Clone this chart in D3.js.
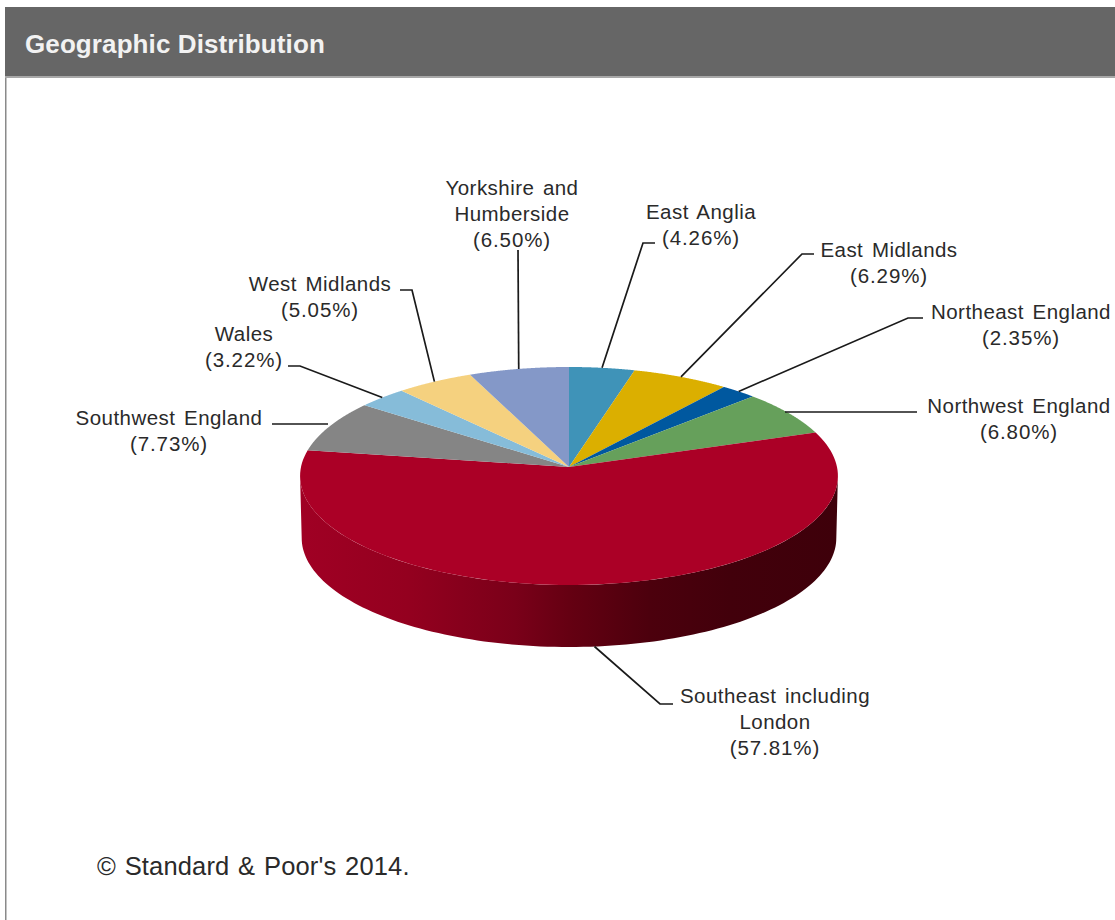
<!DOCTYPE html>
<html>
<head>
<meta charset="utf-8">
<script src="https://cdn.jsdelivr.net/npm/d3@7/dist/d3.min.js"></script>
<style>
html,body{margin:0;padding:0;background:#fff;overflow:hidden}
svg{display:block}
text{font-family:"Liberation Sans",Arial,sans-serif}
</style>
</head>
<body>
<svg id="chart" width="1115" height="920"></svg>
<script>
// Regional shares of the portfolio, clockwise from twelve o'clock
const regions = ["East Anglia","East Midlands","Northeast England","Northwest England","Southeast including London","Southwest England","Wales","West Midlands","Yorkshire and Humberside"];
const shares = [4.26,6.29,2.35,6.80,57.81,7.73,3.22,5.05,6.50];
const sliceColors = ["#3f93b8","#dbaf00","#00589f","#66a05b","#ab0026","#858585","#86bcd9","#f5d17f","#8498c8"];
const labelLines = [
  ["East Anglia"],
  ["East Midlands"],
  ["Northeast England"],
  ["Northwest England"],
  ["Southeast including","London"],
  ["Southwest England"],
  ["Wales"],
  ["West Midlands"],
  ["Yorkshire and","Humberside"]
];

// Label block placement: centre x, first baseline, and the leader's elbow points
const labelLayout = [
  {x:701, y:219, elbow:[[643,243],[655,243]]},
  {x:889, y:257, elbow:[[802,254],[814,254]]},
  {x:1021,y:319, elbow:[[908,318],[923,318]]},
  {x:1019,y:413, elbow:[[785,412],[917,412]], flatRim:true},
  {x:775, y:703, elbow:[[660,704],[673,704]], onWall:true},
  {x:169, y:425, elbow:[[328,424],[272,424]], flatRim:true},
  {x:244, y:341, elbow:[[300,366],[288,366]]},
  {x:320, y:291, elbow:[[412,290],[400,290]]},
  {x:512, y:195, elbow:[[518,250]]}
];

const svg = d3.select("#chart");

// Panel frame and title bar
svg.append("rect").attr("x",5).attr("y",7).attr("width",1110).attr("height",70).attr("fill","#666666");
svg.append("rect").attr("x",5).attr("y",76).attr("width",1110).attr("height",2).attr("fill","#a8a8a8");
svg.append("rect").attr("x",5).attr("y",78).attr("width",1.5).attr("height",842).attr("fill","#8a8a8a");
svg.append("text").attr("x",25).attr("y",53).attr("fill","#f2f2f2")
  .attr("font-size",26).attr("font-weight","bold").style("letter-spacing","0.1px").text("Geographic Distribution");

// Perspective projection of the unit disc onto the page
const cx = 569, cy = 467, rx = 268, ry = 108.26, tilt = 0.0826, depth = 62, wallShrink = 0.994;
const project = (a, scale = 1, drop = 0) => {
  const w = 1 + tilt * Math.cos(a);
  return [cx + scale * rx * Math.sin(a) / w, cy + drop - ry * Math.cos(a) / w];
};

const arcs = d3.pie().sort(null).value(d => d)(shares);
const line = d3.line();
const sample = (a0, a1, scale, drop) => d3.range(0, 121).map(i => project(a0 + (a1 - a0) * i / 120, scale, drop));

// Side wall of the tilted disc, visible along the front half only
const defs = svg.append("defs");
const wallGrad = defs.append("linearGradient").attr("id","wallShade")
  .attr("gradientUnits","userSpaceOnUse").attr("x1",300).attr("x2",838).attr("y1",0).attr("y2",0);
[[0,"#a00024"],[0.2,"#94001f"],[0.4,"#7a0019"],[0.5,"#650012"],[0.65,"#4c000d"],[0.8,"#42000b"],[1,"#3e000a"]]
  .forEach(([o,c]) => wallGrad.append("stop").attr("offset",o).attr("stop-color",c));

const wallStart = Math.acos(-tilt), wallEnd = 2 * Math.PI - wallStart;
const wallPts = sample(wallStart, wallEnd, 1, 0).concat(sample(wallEnd, wallStart, wallShrink, depth));
svg.append("path").attr("d", line(wallPts) + "Z").attr("fill","url(#wallShade)");

// Top face slices
svg.append("g").selectAll("path").data(arcs).join("path")
  .attr("d", d => line([[cx, cy]].concat(sample(d.startAngle, d.endAngle, 1, 0))) + "Z")
  .attr("fill", (d, i) => sliceColors[i]);

// Leader lines from each slice's rim to its label
const leaders = svg.append("g").attr("fill","none").attr("stroke","#1a1a1a").attr("stroke-width",1.7);
arcs.forEach((d, i) => {
  const mid = (d.startAngle + d.endAngle) / 2;
  const layout = labelLayout[i];
  const rim = project(mid, layout.onWall ? wallShrink : 1, layout.onWall ? depth : 0);
  const pts = layout.flatRim ? layout.elbow : [rim].concat(layout.elbow);
  leaders.append("path").attr("d", line(pts));
});

// Region labels with their percentages
const labels = svg.append("g").attr("fill","#2a2a2a").attr("font-size",20.5).attr("text-anchor","middle");
labelLines.forEach((rows, i) => {
  const layout = labelLayout[i];
  rows.forEach((row, j) => {
    labels.append("text").attr("x", layout.x).attr("y", layout.y + j * 26)
      .style("letter-spacing","0.45px").style("word-spacing","2.5px").text(row);
  });
  labels.append("text").attr("x", layout.x).attr("y", layout.y + rows.length * 26)
    .style("letter-spacing","0.9px").text(`(${shares[i].toFixed(2)}%)`);
});

svg.append("text").attr("x",97).attr("y",875).attr("fill","#2a2a2a").attr("font-size",25.5)
  .style("letter-spacing","0.15px").style("word-spacing","1.5px").text("© Standard & Poor's 2014.");
</script>
</body>
</html>
